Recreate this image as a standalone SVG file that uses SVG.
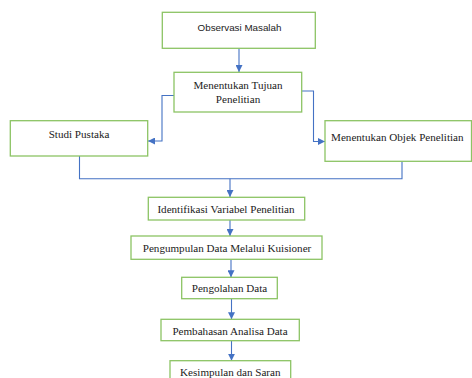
<svg xmlns="http://www.w3.org/2000/svg" width="472" height="378" viewBox="0 0 472 378">
<defs>
<marker id="ah" viewBox="0 0 10 10" refX="10" refY="5" markerWidth="7" markerHeight="7" markerUnits="userSpaceOnUse" orient="auto">
<path d="M0,0 L10,5 L0,10 z" fill="#4472C4"/>
</marker>
<style>
.box{fill:#fff;stroke:#8CC464;stroke-width:1.3}
.t{font-family:"Liberation Serif","Times New Roman",serif;font-size:11.1px;fill:#222;text-anchor:middle;dominant-baseline:central}
.s{font-family:"Liberation Sans",Arial,sans-serif;font-size:9.8px;fill:#222;text-anchor:middle;dominant-baseline:central}
.c{fill:none;stroke:#4472C4;stroke-width:1.1}
</style>
</defs>
<rect width="472" height="378" fill="#fff"/>
<g id="connectors">
<path class="c" d="M239,48 V72" marker-end="url(#ah)"/>
<path class="c" d="M174,95.5 H162 V141 H148" marker-end="url(#ah)"/>
<path class="c" d="M302,91 H313.5 V141.5 H325" marker-end="url(#ah)"/>
<path class="c" d="M79.5,156 V178.7 H402 V161"/>
<path class="c" d="M230,178.7 V197" marker-end="url(#ah)"/>
<path class="c" d="M230,220 V236" marker-end="url(#ah)"/>
<path class="c" d="M231,259.3 V277.3" marker-end="url(#ah)"/>
<path class="c" d="M231.5,298.7 V319.3" marker-end="url(#ah)"/>
<path class="c" d="M231.5,340.7 V360.7" marker-end="url(#ah)"/>
</g>
<g id="observasi">
<rect class="box" x="162.3" y="12.3" width="153" height="36"/>
<text class="s" x="239.5" y="27">Observasi Masalah</text>
</g>
<g id="tujuan">
<rect class="box" x="174" y="72.3" width="127.7" height="39.7"/>
<text class="t" x="238" y="84.5">Menentukan Tujuan</text>
<text class="t" x="238" y="99">Penelitian</text>
</g>
<g id="studi">
<rect class="box" x="10.3" y="120.7" width="137.4" height="35.3"/>
<text class="t" x="79" y="134">Studi Pustaka</text>
</g>
<g id="objek">
<rect class="box" x="325" y="120.7" width="146.5" height="40.6"/>
<text class="t" x="397.3" y="137">Menentukan Objek Penelitian</text>
</g>
<g id="identifikasi">
<rect class="box" x="148.3" y="197.3" width="156.4" height="22.7"/>
<text class="t" x="226" y="209.3">Identifikasi Variabel Penelitian</text>
</g>
<g id="pengumpulan">
<rect class="box" x="131" y="236" width="191" height="23.3"/>
<text class="t" x="227" y="248.3">Pengumpulan Data Melalui Kuisioner</text>
</g>
<g id="pengolahan">
<rect class="box" x="181.7" y="277.3" width="95.6" height="21.4"/>
<text class="t" x="229.5" y="288.3">Pengolahan Data</text>
</g>
<g id="pembahasan">
<rect class="box" x="161" y="319.3" width="138.3" height="21.4"/>
<text class="t" x="230" y="330.7">Pembahasan Analisa Data</text>
</g>
<g id="kesimpulan">
<rect class="box" x="170" y="360.7" width="120.7" height="22"/>
<text class="t" x="230.3" y="371.7">Kesimpulan dan Saran</text>
</g>
</svg>
